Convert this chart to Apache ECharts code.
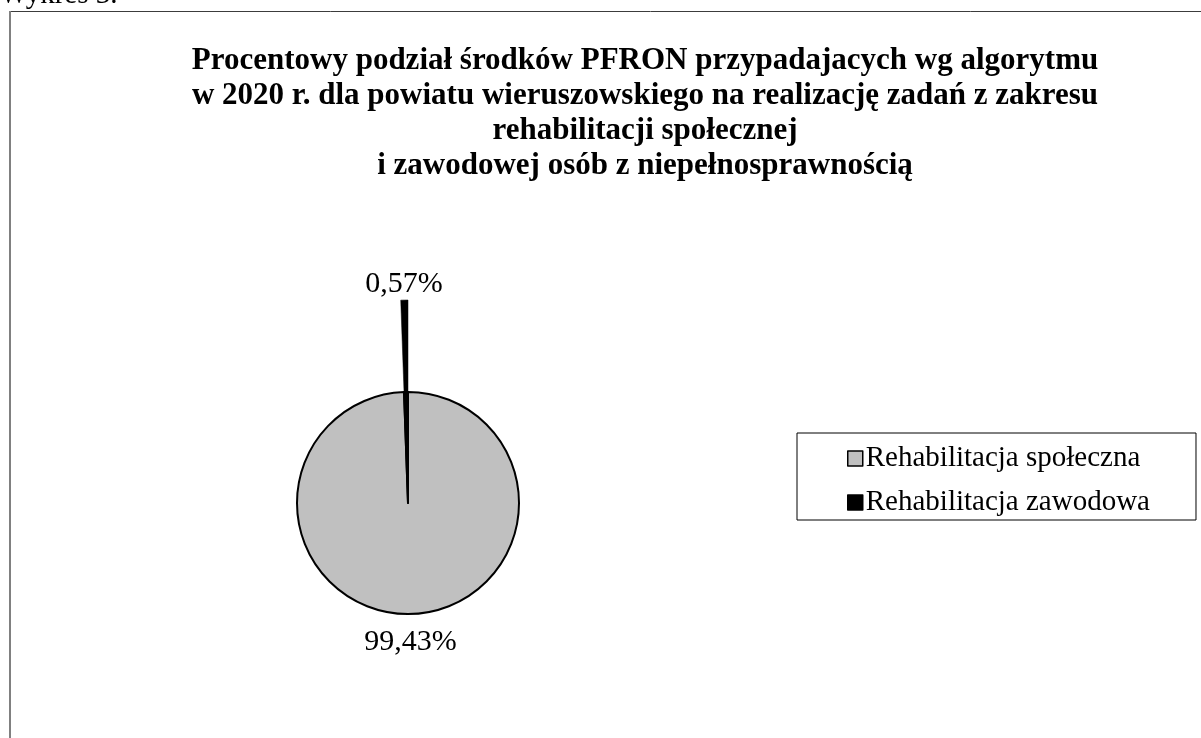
<!DOCTYPE html>
<html lang="pl">
<head>
    <meta charset="UTF-8">
    <title>Wykres 3</title>
    <script src="https://cdn.jsdelivr.net/npm/echarts@6/dist/echarts.min.js"></script>
    <style>
        html, body { margin: 0; padding: 0; overflow: hidden; background: #fff; }
    </style>
</head>
<body>
    <!-- szerszy kontener: tytuł wyśrodkowany na ramce wykresu, nie na oknie -->
    <div id="main" style="width: 1290px;height:738px;"></div>
</body>

<script>
    var myChart = echarts.init(document.getElementById('main'));

    // dane
    var categories = ['Rehabilitacja społeczna', 'Rehabilitacja zawodowa'];
    var shares = [99.43, 0.57];
    var colors = ['#c0c0c0', '#000000'];
    var titleLines = [
        'Procentowy podział środków PFRON przypadajacych wg algorytmu',
        'w 2020 r. dla powiatu wieruszowskiego na realizację zadań z zakresu',
        'rehabilitacji społecznej',
        'i zawodowej osób z niepełnosprawnością'
    ];
    var caption = 'Wykres 3.';

    var serif = '"Liberation Serif", "Times New Roman", serif';

    function fmtPct(v) {
        return v.toFixed(2).replace('.', ',') + '%';
    }

    // koło właściwe
    var innerData = categories.map(function (name, i) {
        return {
            name: name,
            value: shares[i],
            itemStyle: { color: colors[i] },
            label: { show: i === 0 }
        };
    });
    // wysunięty czarny wycinek
    var outerData = categories.map(function (name, i) {
        if (i === 0) {
            return {
                name: name, value: shares[i],
                itemStyle: { color: 'rgba(0,0,0,0)', borderWidth: 0 },
                label: { show: false }
            };
        }
        return {
            name: name, value: shares[i],
            itemStyle: { color: colors[i], borderColor: '#000', borderWidth: 0.5 },
            label: { show: true }
        };
    });

    var labelStyle = {
        position: 'outside',
        fontFamily: serif,
        fontSize: 30,
        color: '#000',
        distanceToLabelLine: 0,
        formatter: function (p) { return fmtPct(p.value); }
    };

    var option = {
        animation: false,
        backgroundColor: '#fff',
        title: {
            text: titleLines.join('\n'),
            left: 'center',
            top: 38,
            textStyle: {
                fontFamily: serif,
                fontWeight: 'bold',
                fontSize: 31,
                lineHeight: 35,
                color: '#000'
            }
        },
        legend: {
            orient: 'vertical',
            left: 797,
            top: 433,
            padding: [11, 46, 3, 50],
            itemGap: 15,
            itemWidth: 15,
            itemHeight: 15,
            icon: 'rect',
            borderColor: '#000',
            borderWidth: 1,
            itemStyle: { borderColor: '#000', borderWidth: 1.5 },
            textStyle: { fontFamily: serif, fontSize: 29, color: '#000', padding: [0, 0, 0, -2] },
            data: categories
        },
        graphic: [
            {
                type: 'text', left: 0, top: -19,
                style: { text: caption, fontFamily: serif, fontSize: 29, fill: '#000' }
            },
            {
                type: 'line',
                shape: { x1: 10, y1: 11.5, x2: 1400, y2: 11.5 },
                style: { stroke: '#3c3c3c', lineWidth: 1 }
            },
            {
                type: 'line',
                shape: { x1: 10, y1: 11, x2: 10, y2: 800 },
                style: { stroke: '#808080', lineWidth: 2 }
            }
        ],
        series: [
            {
                name: 'PFRON',
                type: 'pie',
                center: [408, 503],
                radius: 111,
                startAngle: 90,
                clockwise: true,
                avoidLabelOverlap: false,
                itemStyle: { borderColor: '#000', borderWidth: 2 },
                label: labelStyle,
                labelLine: { show: false, length: 28, length2: 0 },
                labelLayout: function () { return { align: 'center' }; },
                emphasis: { disabled: true },
                data: innerData
            },
            {
                name: 'PFRON wysunięty',
                type: 'pie',
                center: [408, 503],
                radius: 203,
                startAngle: 90,
                clockwise: true,
                silent: true,
                avoidLabelOverlap: false,
                label: labelStyle,
                labelLine: { show: false, length: 16, length2: 0 },
                labelLayout: function () { return { align: 'center' }; },
                emphasis: { disabled: true },
                data: outerData
            }
        ]
    };

    myChart.setOption(option);
</script>
</html>
